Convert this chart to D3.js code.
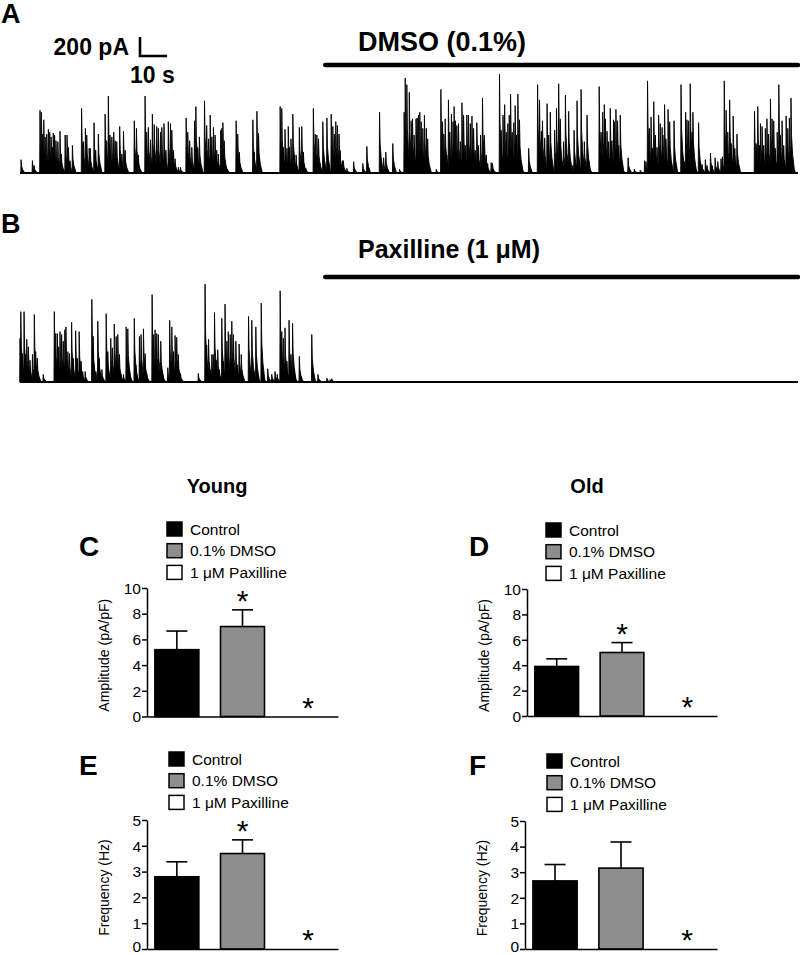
<!DOCTYPE html>
<html>
<head>
<meta charset="utf-8">
<script src="https://cdn.jsdelivr.net/npm/d3@7"></script>
<style>
body { margin: 0; background: #fff; }
text { font-family: "Liberation Sans", Arial, sans-serif; fill: #000; }
</style>
</head>
<body>
<div id="chart"></div>
<script>
// ---- trace data (event time in s, peak amplitude in pA)
var traceATime = [0.4,4.6,5.2,7.4,7.9,8.4,8.8,9.3,9.9,10.5,11.0,11.5,12.0,12.3,12.8,13.3,14.0,14.8,15.3,16.7,17.4,17.9,18.5,19.4,22.8,23.5,24.2,24.7,25.6,26.0,27.4,28.0,29.0,31.5,32.1,32.7,33.3,34.0,34.7,35.2,35.8,36.9,37.7,38.3,38.9,42.3,43.1,43.8,46.3,46.9,47.5,48.3,49.0,49.7,50.6,51.2,52.0,52.5,53.3,54.0,54.9,55.7,56.2,56.8,57.4,58.6,59.4,61.5,62.1,62.8,63.6,64.6,65.1,65.8,66.4,68.3,69.1,69.8,71.0,
	70.4,71.6,72.2,72.8,73.4,74.3,74.7,75.1,75.6,76.0,76.8,80.0,80.6,81.2,86.2,86.7,87.7,88.3,96.3,96.9,97.5,98.1,98.8,99.3,99.7,100.3,101.0,101.5,102.2,103.4,104.3,104.9,105.8,108.6,109.3,109.9,110.5,111.1,112.1,112.7,113.6,115.2,115.8,116.4,116.9,117.5,118.1,118.5,119.3,119.7,121.0,123.5,126.9,128.4,133.1,134.6,135.4,138.0,140.5,142.2,142.6,143.2,144.1,
	144.8,145.3,145.9,146.6,147.0,147.5,148.0,148.5,149.1,149.7,150.4,150.9,154.1,155.8,156.4,156.9,157.4,158.0,158.6,159.1,159.7,160.3,160.7,161.2,161.7,162.3,163.0,163.6,164.2,164.8,165.4,166.0,166.7,167.3,167.9,168.5,169.1,169.7,170.5,171.2,171.9,172.6,173.1,174.4,174.9,177.5,178.1,178.8,179.4,180.0,180.6,181.1,181.6,182.2,182.8,183.3,183.8,184.3,184.9,185.6,188.3,191.6,192.3,193.0,193.4,194.2,195.1,195.7,196.3,196.9,197.9,198.6,199.4,200.0,200.6,201.2,201.9,202.5,203.1,203.7,204.6,205.1,205.6,206.2,206.8,207.7,208.3,208.9,209.4,209.9,210.5,214.4,215.1,215.7,216.3,
	216.7,217.3,217.9,218.5,219.1,219.7,220.1,220.6,221.2,221.6,222.2,222.9,225.1,227.4,229.6,231.2,231.7,232.3,233.0,233.6,234.2,234.6,235.2,235.8,236.4,237.0,237.7,238.0,238.6,239.1,239.9,240.5,241.1,242.1,244.7,245.2,245.9,246.4,246.9,247.5,248.1,248.8,249.1,249.7,251.2,252.5,253.7,254.3,255.6,256.2,257.3,258.3,259.5,260.0,260.7,261.4,262.0,262.7,263.3,264.0,264.6,265.4,265.9,271.9,272.5,273.1,273.7,274.1,274.7,275.3,275.9,276.5,277.1,277.8,278.4,279.0,279.6,280.3,280.9,281.5,282.1,282.7,283.6,284.2,284.8,285.4,286.0];
var traceAAmp = [140,130,80,660,640,410,560,380,410,460,430,380,270,420,400,340,330,440,200,400,400,270,130,290,680,330,470,400,260,260,530,240,410,620,340,810,400,380,430,340,330,490,200,440,240,550,470,190,810,430,480,350,620,510,490,470,430,480,520,240,540,520,450,240,150,60,60,580,430,340,270,550,700,270,380,760,500,360,380,
	610,480,400,240,200,450,470,530,340,130,40,550,410,220,560,220,650,420,700,680,270,460,260,490,270,360,620,190,190,480,490,220,50,680,410,400,360,100,540,130,580,620,490,410,540,500,410,240,130,130,50,120,100,280,640,160,220,310,40,640,1000,930,850,
	550,570,400,570,580,610,640,540,470,610,470,360,40,880,540,410,570,190,770,430,620,540,700,550,500,520,330,740,610,290,610,610,520,600,470,240,530,290,400,790,400,190,100,110,100,1040,450,610,720,430,520,610,830,430,530,710,400,830,560,80,260,930,770,440,550,370,730,400,640,80,450,680,940,570,120,330,820,120,650,120,80,450,120,760,170,880,150,330,120,610,130,910,430,640,720,
	570,440,330,680,340,560,540,670,550,290,610,60,160,40,30,130,120,970,470,590,260,750,400,270,610,520,480,400,720,360,670,540,120,550,930,170,120,640,560,550,940,430,640,100,530,90,140,80,210,80,160,120,150,170,970,660,430,770,310,600,260,410,50,650,310,700,290,520,490,290,470,570,410,780,570,550,260,430,930,400,550,290,600,470,580,790,100];

var traceBTime = [0.0,0.3,0.9,1.5,2.0,2.5,3.1,3.7,4.6,5.3,5.8,6.4,8.6,12.7,13.2,13.8,14.3,14.8,15.4,16.0,16.6,17.0,17.7,18.3,19.1,19.7,20.6,21.2,21.9,22.6,23.2,24.1,26.6,27.1,28.1,28.8,29.3,30.3,31.9,32.5,33.6,34.2,34.9,35.6,36.2,36.8,37.4,38.3,39.3,39.9,40.4,42.3,42.9,44.2,44.8,45.7,46.3,46.9,48.9,49.5,50.0,50.6,51.2,52.1,52.7,54.7,55.4,56.2,56.8,57.4,58.0,58.6,59.4,66.0,68.5,69.1,69.8,70.4,71.0,71.5,72.0,72.6,73.2,73.8,74.7,75.3,75.9,76.6,77.1,77.8,78.4,79.0,79.9,80.5,81.1,81.9,84.6,85.2,85.8,86.6,87.3,87.9,89.3,89.9,91.7,93.2,94.4,95.2,96.3,96.9,97.5,98.1,98.8,99.6,100.3,100.9,101.4,103.4,104.0,108.0,108.6,110.3,113.6,114.8,115.4];
var traceBAmp = [460,740,300,740,290,450,370,230,290,710,320,250,80,740,510,510,370,530,500,430,550,580,320,300,630,250,540,250,530,220,110,110,870,480,110,640,250,130,720,320,460,360,610,480,500,290,80,80,580,560,150,670,180,480,500,560,300,90,920,500,550,510,500,430,110,150,650,580,320,490,470,290,90,90,1030,390,450,130,290,290,730,230,340,130,670,220,820,430,530,500,640,500,430,180,400,290,690,110,650,110,580,80,830,80,140,80,110,80,960,530,460,570,220,650,290,620,130,270,60,500,60,80,40,25,35];

var recordLength = 288;   // s
var drugStart = 113;      // s, start of drug application bar

// ---- bar chart data
var groups = ["Control", "0.1% DMSO", "1 \u03bcM Paxilline"];
var groupFill = ["#000", "#8e8e8e", "#fff"];

var ampYoung = [5.2, 7.0, 0], ampYoungErr = [1.45, 1.3, 0], ampYoungSig = [false, true, true];
var ampOld = [3.9, 5.0, 0], ampOldErr = [0.6, 0.78, 0], ampOldSig = [false, true, true];
var freqYoung = [2.8, 3.7, 0], freqYoungErr = [0.58, 0.53, 0], freqYoungSig = [false, true, true];
var freqOld = [2.66, 3.16, 0], freqOldErr = [0.64, 1.02, 0], freqOldSig = [false, false, true];

var ampTicks = [0, 2, 4, 6, 8, 10];
var freqTicks = [0, 1, 2, 3, 4, 5];

var W = 800, H = 955;
var svg = d3.select("#chart").append("svg")
	.attr("width", W)
	.attr("height", H);

// ---------------- traces
var tx = d3.scaleLinear().domain([0, recordLength]).range([20, 798]);

function drawTrace(times, amps, base) {
	var ay = d3.scaleLinear().domain([0, 1000]).range([base, base - 95]);
	var g = svg.append("g");
	var ev = d3.range(times.length).map(function(i){ return {t: times[i], a: amps[i]}; });
	ev.sort(function(a, b){ return a.t - b.t; });

	// baseline
	g.append("line")
		.attr("x1", tx(0)).attr("x2", tx(recordLength))
		.attr("y1", ay(0)).attr("y2", ay(0))
		.style("stroke", "#000").style("stroke-width", 1.8);

	// each event: fast rise, slower decay with a tail
	var shape = d3.line().x(function(d){ return tx(d[0]); }).y(function(d){ return ay(d[1]); });
	g.selectAll("path.ev").data(ev).enter().append("path")
		.attr("class", "ev")
		.attr("d", function(d){
			return shape([[d.t - 0.12, 0], [d.t, d.a], [d.t + 0.2, d.a * 0.5],
				[d.t + 0.6, d.a * 0.25], [d.t + 1.4, 0]]) + "Z";
		})
		.style("fill", "#000")
		.style("stroke", "#000")
		.style("stroke-width", 0.9)
		.style("stroke-linejoin", "round");
	return ay;
}

var ayA = drawTrace(traceATime, traceAAmp, 173);
drawTrace(traceBTime, traceBAmp, 382);

// scale bar: 200 pA / 10 s
var barH = ayA(0) - ayA(200), barW = tx(10) - tx(0);
svg.append("path")
	.attr("d", "M140,37 V" + (37 + barH) + " H" + (140 + barW))
	.style("fill", "none").style("stroke", "#000").style("stroke-width", 2.6);
svg.append("text").attr("x", 129).attr("y", 55).attr("text-anchor", "end")
	.style("font-size", "23px").style("font-weight", "bold").text("200 pA");
svg.append("text").attr("x", 130).attr("y", 83)
	.style("font-size", "23px").style("font-weight", "bold").text("10 s");

// drug bars
function drugBar(y, label, ty, size) {
	svg.append("line").attr("x1", tx(drugStart)).attr("x2", tx(recordLength))
		.attr("y1", y).attr("y2", y)
		.style("stroke", "#000").style("stroke-width", 4.5).style("stroke-linecap", "round");
	svg.append("text").attr("x", 358).attr("y", ty)
		.style("font-size", size).style("font-weight", "bold").text(label);
}
drugBar(65, "DMSO (0.1%)", 51, "27px");
drugBar(277, "Paxilline (1 \u03bcM)", 258, "25px");

svg.append("text").attr("x", 1).attr("y", 23).style("font-size", "27px").style("font-weight", "bold").text("A");
svg.append("text").attr("x", 1).attr("y", 233).style("font-size", "27px").style("font-weight", "bold").text("B");

// ---------------- bar panels
svg.append("text").attr("x", 217).attr("y", 493).attr("text-anchor", "middle")
	.style("font-size", "20px").style("font-weight", "bold").text("Young");
svg.append("text").attr("x", 587).attr("y", 493).attr("text-anchor", "middle")
	.style("font-size", "20px").style("font-weight", "bold").text("Old");

var panels = [
	{letter: "C", values: ampYoung, errs: ampYoungErr, sig: ampYoungSig, ticks: ampTicks, label: "Amplitude (pA/pF)",
		ax: 147, x1: 338, y0: 716.5, yTop: 588, legX: 167, legY: 529, labX: 104, lx: 79, ly: 556},
	{letter: "D", values: ampOld, errs: ampOldErr, sig: ampOldSig, ticks: ampTicks, label: "Amplitude (pA/pF)",
		ax: 527, x1: 717, y0: 716, yTop: 589, legX: 546, legY: 530, labX: 484, lx: 469, ly: 556},
	{letter: "E", values: freqYoung, errs: freqYoungErr, sig: freqYoungSig, ticks: freqTicks, label: "Frequency (Hz)",
		ax: 147, x1: 338, y0: 949, yTop: 820, legX: 169, legY: 759, labX: 104, lx: 79, ly: 775},
	{letter: "F", values: freqOld, errs: freqOldErr, sig: freqOldSig, ticks: freqTicks, label: "Frequency (Hz)",
		ax: 525, x1: 717, y0: 949, yTop: 821, legX: 547, legY: 761, labX: 482, lx: 469, ly: 775}
];

panels.forEach(function(p) {
	var g = svg.append("g");
	var x = d3.scaleBand().domain(groups).range([p.ax, p.x1]).paddingInner(0.33).paddingOuter(0.12);
	var y = d3.scaleLinear().domain([0, d3.max(p.ticks)]).range([p.y0, p.yTop]);

	// bars
	g.selectAll("rect.bar").data(groups).enter().append("rect")
		.attr("class", "bar")
		.attr("x", function(d){ return x(d); })
		.attr("y", function(d, i){ return y(p.values[i]); })
		.attr("width", x.bandwidth())
		.attr("height", function(d, i){ return p.y0 - y(p.values[i]); })
		.style("fill", function(d, i){ return groupFill[i]; })
		.style("stroke", "#000").style("stroke-width", 1.6)
		.style("display", function(d, i){ return p.values[i] > 0 ? null : "none"; });

	// error bars (upper only)
	groups.forEach(function(gname, i) {
		if (p.errs[i] <= 0) return;
		var cx = x(gname) + x.bandwidth() / 2;
		var top = y(p.values[i] + p.errs[i]);
		g.append("line").attr("x1", cx).attr("x2", cx).attr("y1", y(p.values[i])).attr("y2", top)
			.style("stroke", "#000").style("stroke-width", 1.6);
		g.append("line").attr("x1", cx - 10.5).attr("x2", cx + 10.5).attr("y1", top).attr("y2", top)
			.style("stroke", "#000").style("stroke-width", 1.6);
	});

	// significance stars
	groups.forEach(function(gname, i) {
		if (!p.sig[i]) return;
		var cx = x(gname) + x.bandwidth() / 2;
		var top = y(p.values[i] + p.errs[i]);
		g.append("text").attr("x", cx).attr("y", top + 1).attr("text-anchor", "middle")
			.style("font-size", "30px").text("*");
	});

	// axes
	var yAxis = g.append("g").attr("transform", "translate(" + p.ax + ",0)")
		.call(d3.axisLeft(y).tickValues(p.ticks).tickFormat(d3.format("d"))
			.tickSize(5).tickSizeOuter(0).tickPadding(1));
	yAxis.selectAll("text").style("font-size", "15.5px")
		.attr("dy", function(d){ return (d === 0 && p.y0 > 940) ? "0.18em" : "0.34em"; });
	yAxis.selectAll("path,line").style("stroke", "#000").style("stroke-width", 1.5);

	var xAxis = g.append("g").attr("transform", "translate(0," + p.y0 + ")")
		.call(d3.axisBottom(x).tickValues([]).tickSizeOuter(0));
	xAxis.selectAll("path").style("stroke", "#000").style("stroke-width", 1.5);

	g.append("text")
		.attr("transform", "translate(" + p.labX + "," + ((p.y0 + p.yTop) / 2 + 3) + ") rotate(-90)")
		.attr("text-anchor", "middle").attr("dy", "0.35em")
		.style("font-size", "14px").text(p.label);

	// legend
	var leg = g.selectAll("g.leg").data(groups).enter().append("g")
		.attr("class", "leg")
		.attr("transform", function(d, i){ return "translate(" + p.legX + "," + (p.legY + i * 21.7) + ")"; });
	leg.append("rect").attr("x", 0).attr("y", -7).attr("width", 15).attr("height", 14)
		.style("fill", function(d, i){ return groupFill[i]; })
		.style("stroke", "#000").style("stroke-width", 1.5);
	leg.append("text").attr("x", 23).attr("y", 5.5).style("font-size", "15.5px").text(function(d){ return d; });

	svg.append("text").attr("x", p.lx).attr("y", p.ly)
		.style("font-size", "28px").style("font-weight", "bold").text(p.letter);
});
</script>
</body>
</html>
